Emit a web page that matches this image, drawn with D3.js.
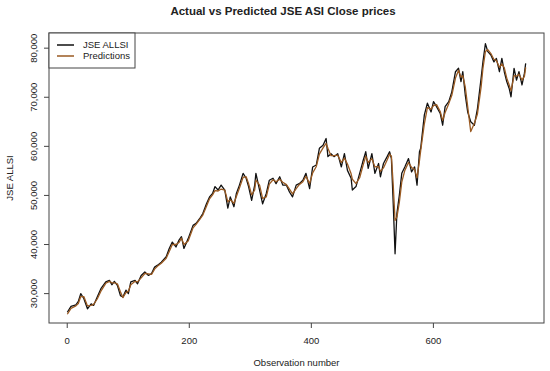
<!DOCTYPE html>
<html lang="en">
<head>
<meta charset="utf-8">
<title>Actual vs Predicted JSE ASI Close prices</title>
<script src="https://d3js.org/d3.v7.min.js"></script>
<style>
  body { margin: 0; background: #fff; }
  text { font-family: "Liberation Sans", Arial, Helvetica, sans-serif; fill: #222; }
  .title { font-size: 11.5px; font-weight: bold; }
  .tick-lab { font-size: 9.5px; }
  .axis-lab { font-size: 9.5px; }
  .leg { font-size: 9.5px; }
</style>
</head>
<body>
<svg width="550" height="371"></svg>
<script>
const obs = [1,7,15,19,23,28,34,40,44,50,56,64,70,74,78,83,88,92,97,101,105,112,116,122,128,134,139,144,149,155,
  163,168,173,179,184,188,192,199,207,212,218,223,229,234,239,243,248,253,259,264,268,274,278,283,289,294,298,303,308,310,
  316,321,327,332,338,343,349,354,360,365,370,376,381,387,392,398,403,409,414,420,425,428,433,438,444,450,455,460,466,468,
  474,480,485,490,494,500,505,511,514,519,525,529,532,535,538,541,545,549,554,560,565,570,574,578,580,586,591,597,601,606,
  612,616,620,626,631,637,642,646,649,653,657,662,668,673,679,682,686,690,695,700,704,709,713,717,721,725,728,733,737,741,
  746,750,752];

// JSE ALLSI (actual close)
const actual = [26100,27300,27600,28300,29900,28900,26800,27800,27500,29200,30900,32300,32600,31700,32400,31600,29500,29200,30600,29900,
  32300,32600,31900,33600,34300,33600,34000,35300,35700,36300,37400,39100,40400,39400,40800,41500,39100,41100,43800,44200,
  45200,46200,48200,49600,50300,51700,51000,52000,51000,47300,49600,47600,50300,52000,54400,53400,51700,48900,52000,54400,
  51000,48200,50300,53000,53400,52300,53700,52000,52000,50600,49600,52000,52300,53000,54400,51300,55700,56100,59500,60100,
  61500,57800,58400,57800,58400,55700,58400,55000,53400,51000,51700,54400,56700,58800,55400,58400,54400,56400,53700,56400,
  57800,58800,57400,48200,38000,46200,49900,54400,55700,57400,54700,55700,52000,58800,59500,66300,68700,66900,69000,68000,
  66600,64200,68000,69000,71000,75100,75800,73100,75100,70400,66900,64900,64200,67600,73800,77100,80800,79200,78500,77100,
  77800,75100,77800,75100,73100,71700,70000,75800,73400,75100,72400,74800,76800];

// model predictions
const predicted = [25700,26900,27400,27900,29300,29300,27400,27500,27700,28800,30400,32000,32400,32100,32100,31900,30300,29100,30100,30400,
  31700,32400,32300,33100,34000,33900,33800,34900,35500,36100,37100,38500,39900,39900,40300,41200,39900,40600,43300,44000,
  45000,45900,47700,49200,50000,50900,50800,51200,51000,48600,49000,48300,49700,51400,53600,53700,52300,50000,51000,53000,
  52000,49300,49600,52200,53100,52700,53200,52600,52100,51200,50200,51300,52100,52700,53800,52300,54500,55800,58300,59600,
  60500,59500,58000,58000,58100,56600,57500,56300,54300,53200,52300,53500,55800,57900,56600,57400,55700,55800,54800,55500,
  57100,58300,57900,52000,44800,45500,48500,52600,55000,56600,55600,55200,53500,57000,59000,64500,67800,67500,68200,68400,
  67000,65200,66800,68600,70300,73800,75400,74000,74300,72000,68000,62900,64600,66500,72000,75800,79200,79600,78800,77600,
  77400,76000,76700,75900,73800,72400,71200,74300,74200,74600,73400,74200,76000];

const xTicks = [0, 200, 400, 600];
const yTicks = [30000, 40000, 50000, 60000, 70000, 80000];
const legendItems = ["JSE ALLSI", "Predictions"];
const lineColors = ["#111111", "#9a5a22"];

const svg = d3.select("svg");
const pLeft = 49, pRight = 544, pTop = 33, pBottom = 323;

// R style 4% range extension
const n = obs[obs.length - 1];
const xPad = 0.04 * (n - 1);
const x = d3.scaleLinear().domain([1 - xPad, n + xPad]).range([pLeft, pRight]);
const yExt = d3.extent(actual);
const yPad = 0.04 * (yExt[1] - yExt[0]);
const y = d3.scaleLinear().domain([yExt[0] - yPad, yExt[1] + yPad]).range([pBottom, pTop]);

svg.append("clipPath").attr("id", "plotclip")
  .append("rect").attr("x", pLeft).attr("y", pTop)
  .attr("width", pRight - pLeft).attr("height", pBottom - pTop);

const line = d3.line().x((d, i) => x(obs[i])).y(d => y(d));

// actual first, predictions on top
svg.append("path")
  .datum(actual)
  .attr("clip-path", "url(#plotclip)")
  .attr("fill", "none")
  .attr("stroke", lineColors[0])
  .attr("stroke-width", 1.3)
  .attr("stroke-linejoin", "round")
  .attr("d", line);

svg.append("path")
  .datum(predicted)
  .attr("clip-path", "url(#plotclip)")
  .attr("fill", "none")
  .attr("stroke", lineColors[1])
  .attr("stroke-width", 1.3)
  .attr("stroke-linejoin", "round")
  .attr("d", line);

// box
svg.append("rect")
  .attr("x", pLeft).attr("y", pTop)
  .attr("width", pRight - pLeft).attr("height", pBottom - pTop)
  .attr("fill", "none").attr("stroke", "#444").attr("stroke-width", 1);

// axes (ticks only, the box covers the axis line)
const xAxis = svg.append("g").attr("transform", `translate(0,${pBottom})`)
  .call(d3.axisBottom(x).tickValues(xTicks).tickSize(5).tickPadding(9).tickFormat(d3.format("d")));
xAxis.select(".domain").remove();
xAxis.selectAll("line").attr("stroke", "#444");
xAxis.selectAll("text").attr("class", "tick-lab").attr("fill", "#222");

const yAxis = svg.append("g").attr("transform", `translate(${pLeft},0)`)
  .call(d3.axisLeft(y).tickValues(yTicks).tickSize(5).tickFormat(d3.format(",")));
yAxis.select(".domain").remove();
yAxis.selectAll("line").attr("stroke", "#444");
yAxis.selectAll("text")
  .attr("class", "tick-lab")
  .attr("fill", "#222")
  .attr("x", null)
  .attr("text-anchor", "middle")
  .attr("transform", "translate(-15,0) rotate(-90)")
  .attr("y", 0).attr("dy", "0.32em");
yAxis.attr("font-family", null).attr("font-size", null);
xAxis.attr("font-family", null).attr("font-size", null);

// titles
svg.append("text").attr("class", "title")
  .attr("x", 283).attr("y", 15)
  .attr("text-anchor", "middle")
  .text("Actual vs Predicted JSE ASI Close prices");

svg.append("text").attr("class", "axis-lab")
  .attr("x", (pLeft + pRight) / 2).attr("y", 366)
  .attr("text-anchor", "middle")
  .text("Observation number");

svg.append("text").attr("class", "axis-lab")
  .attr("transform", `translate(13,${(pTop + pBottom) / 2}) rotate(-90)`)
  .attr("text-anchor", "middle")
  .text("JSE ALLSI");

// legend
const leg = svg.append("g");
leg.append("rect")
  .attr("x", pLeft).attr("y", pTop)
  .attr("width", 86).attr("height", 35)
  .attr("fill", "#fff").attr("stroke", "#444").attr("stroke-width", 1);

const legRows = leg.selectAll("g.row").data(legendItems).enter()
  .append("g").attr("class", "row")
  .attr("transform", (d, i) => `translate(${pLeft},${45 + i * 11})`);
legRows.append("line")
  .attr("x1", 8).attr("x2", 25).attr("y1", 0).attr("y2", 0)
  .attr("stroke", (d, i) => lineColors[i]).attr("stroke-width", 1.5);
legRows.append("text").attr("class", "leg")
  .attr("x", 34).attr("y", 0).attr("dy", "0.35em")
  .text(d => d);
</script>
</body>
</html>
